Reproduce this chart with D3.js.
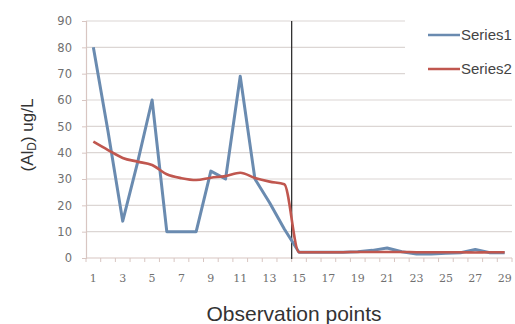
<!DOCTYPE html>
<html>
<head>
<meta charset="utf-8">
<script src="https://cdn.jsdelivr.net/npm/d3@7/dist/d3.min.js"></script>
<style>
  body { margin: 0; background: #fff; }
  svg { display: block; }
</style>
</head>
<body>
<div id="chart"></div>
<script>
// observation points on the x axis
const points = [1, 2, 3, 4, 5, 6, 7, 8, 9, 10, 11, 12, 13, 14, 15,
  16, 17, 18, 19, 20, 21, 22, 23, 24, 25, 26, 27, 28, 29];

// values (ug/L)
const series1 = [80, 48, 14, 36, 60, 10, 10, 10, 33, 30, 69, 30, 21, 11, 2.2,
  2.2, 2.2, 2.2, 2.4, 2.9, 3.8, 2.4, 1.5, 1.5, 1.8, 2, 3.2, 2, 2];
const series2 = [44.2, 41, 38, 36.6, 35.3, 31.8, 30.3, 29.6, 30.5, 31.1, 32.4, 30.4, 29, 28, 2.2,
  2.2, 2.2, 2.2, 2.3, 2.3, 2.3, 2.3, 2.2, 2.2, 2.2, 2.2, 2.1, 2.2, 2.2];

const yTicks = [0, 10, 20, 30, 40, 50, 60, 70, 80, 90];
const xLabels = points.filter(p => p % 2 === 1);
const splitAfter = 14; // vertical marker between point 14 and 15

const width = 515, height = 324;
const margins = { top: 21, right: 3, bottom: 66, left: 86 };

const svg = d3.select("#chart")
  .append("svg")
  .attr("width", width)
  .attr("height", height);

// scales
const x = d3.scaleBand()
  .domain(points)
  .range([margins.left, width - margins.right])
  .padding(0);

const y = d3.scaleLinear()
  .domain([0, 90])
  .range([height - margins.bottom, margins.top]);

// grid lines
svg.append("g")
  .selectAll("line")
  .data(yTicks.filter(d => d > 0))
  .join("line")
    .attr("x1", margins.left)
    .attr("x2", width - margins.right)
    .attr("y1", d => y(d))
    .attr("y2", d => y(d))
    .attr("stroke", "#dcd6d4")
    .attr("stroke-width", 1.2);

// y axis
const yAxis = svg.append("g")
  .attr("transform", `translate(${margins.left},0)`)
  .call(d3.axisLeft(y).tickValues(yTicks).tickSize(4).tickPadding(10));
yAxis.select(".domain").attr("stroke", "#d8c6c2").attr("stroke-width", 1.2);
yAxis.selectAll(".tick line").attr("stroke", "#d8c6c2");
yAxis.selectAll("text")
  .attr("fill", "#707070")
  .style("font-family", "'DejaVu Sans', sans-serif")
  .style("font-size", "11.5px");

// x axis: ticks on band edges, labels on odd points
const xAxisG = svg.append("g")
  .attr("transform", `translate(0,${y(0)})`);
xAxisG.append("line")
  .attr("x1", margins.left)
  .attr("x2", width - margins.right)
  .attr("stroke", "#d8c6c2")
  .attr("stroke-width", 1.2);
xAxisG.selectAll(".edge")
  .data(points.concat([null]))
  .join("line")
    .attr("class", "edge")
    .attr("x1", (d, i) => margins.left + i * x.step())
    .attr("x2", (d, i) => margins.left + i * x.step())
    .attr("y1", 0)
    .attr("y2", 4)
    .attr("stroke", "#d8c6c2");
xAxisG.selectAll(".lbl")
  .data(xLabels)
  .join("text")
    .attr("class", "lbl")
    .attr("x", d => x(d) + x.bandwidth() / 2)
    .attr("y", 23.5)
    .attr("text-anchor", "middle")
    .attr("fill", "#707070")
    .style("font-family", "'DejaVu Serif', serif")
    .style("font-size", "11px")
    .text(d => d);

// legend background hides the top grid lines on the right
svg.append("rect")
  .attr("x", 405)
  .attr("y", 12)
  .attr("width", width - 405)
  .attr("height", 68)
  .attr("fill", "#fff");

// vertical marker line
svg.append("line")
  .attr("x1", x(splitAfter + 1))
  .attr("x2", x(splitAfter + 1))
  .attr("y1", y(90))
  .attr("y2", y(0) + 1)
  .attr("stroke", "#333")
  .attr("stroke-width", 1.3);

const cx = (d, i) => x(points[i]) + x.bandwidth() / 2;

// Series1: straight segments
svg.append("path")
  .datum(series1)
  .attr("fill", "none")
  .attr("stroke", "#6a8bb0")
  .attr("stroke-width", 3)
  .attr("stroke-linejoin", "round")
  .attr("d", d3.line().x(cx).y(d => y(d)));

// Series2: smoothed
svg.append("path")
  .datum(series2)
  .attr("fill", "none")
  .attr("stroke", "#c0574f")
  .attr("stroke-width", 2.6)
  .attr("d", d3.line().x(cx).y(d => y(d)).curve(d3.curveMonotoneX));

// legend
const legendItems = [
  { name: "Series1", color: "#6a8bb0", y: 35 },
  { name: "Series2", color: "#c0574f", y: 69 }
];
const legend = svg.append("g");
legendItems.forEach(item => {
  legend.append("line")
    .attr("x1", 428).attr("x2", 460)
    .attr("y1", item.y).attr("y2", item.y)
    .attr("stroke", item.color)
    .attr("stroke-width", 2.5);
  legend.append("text")
    .attr("x", 461)
    .attr("y", item.y)
    .attr("dy", "0.36em")
    .attr("fill", "#444")
    .style("font-family", "'Liberation Sans', Arial, sans-serif")
    .style("font-size", "15px")
    .text(item.name);
});

// y axis title
const yTitle = svg.append("text")
  .attr("transform", `translate(33,135) rotate(-90)`)
  .attr("text-anchor", "middle")
  .attr("fill", "#333")
  .style("font-family", "'Liberation Sans', Arial, sans-serif")
  .style("font-size", "17px");
yTitle.append("tspan").text("(Al");
yTitle.append("tspan").attr("baseline-shift", "-25%").style("font-size", "12px").text("D");
yTitle.append("tspan").text(") ug/L");

// x axis title
svg.append("text")
  .attr("x", 294)
  .attr("y", 321)
  .attr("text-anchor", "middle")
  .attr("fill", "#333")
  .style("font-family", "'Liberation Sans', Arial, sans-serif")
  .style("font-size", "21px")
  .text("Observation points");
</script>
</body>
</html>
